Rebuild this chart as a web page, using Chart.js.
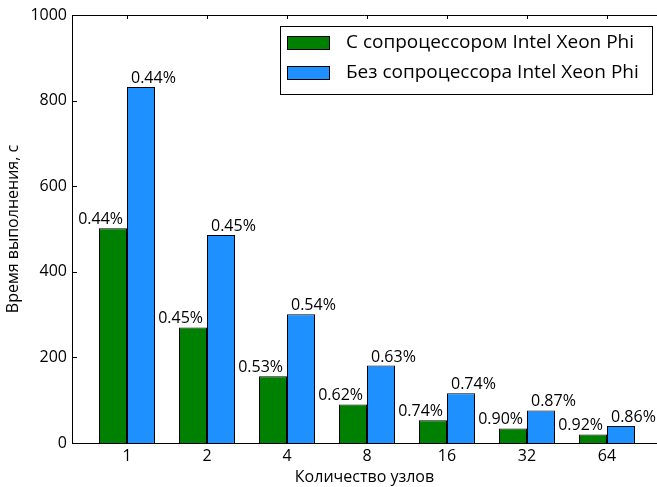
<!DOCTYPE html>
<html>
<head>
<meta charset="utf-8">
<script src="https://cdn.jsdelivr.net/npm/chart.js@4"></script>
<style>
  html, body { margin: 0; padding: 0; background: #fff; }
  #wrap { width: 657px; height: 487px; }
</style>
</head>
<body>
<div id="wrap"><canvas id="timeChart" width="657" height="487"></canvas></div>
<script>
// Data
const nodeLabels = ['1', '2', '4', '8', '16', '32', '64'];
const nodePos = [0, 1, 2, 3, 4, 5, 6];
const withPhi = [502, 270, 156, 90, 53, 34, 20];
const withoutPhi = [832, 486, 301, 181, 116, 76, 40];
const withPhiPct = ['0.44%', '0.45%', '0.53%', '0.62%', '0.74%', '0.90%', '0.92%'];
const withoutPhiPct = ['0.44%', '0.45%', '0.54%', '0.63%', '0.74%', '0.87%', '0.86%'];
const yTicks = [0, 200, 400, 600, 800, 1000];

const FONT = 'Open Sans';

// inner ticks, top spine, bar labels and the framed legend
const decorPlugin = {
    id: 'decor',
    afterDatasetsDraw(chart) {
        const ctx = chart.ctx;
        const area = chart.chartArea;
        const x = chart.scales.x;
        const y = chart.scales.y;

        ctx.save();
        ctx.strokeStyle = '#000';
        ctx.lineWidth = 1;

        // top spine
        ctx.beginPath();
        ctx.moveTo(area.left, Math.round(area.top) + 0.5);
        ctx.lineTo(area.right, Math.round(area.top) + 0.5);
        ctx.stroke();

        // x ticks (top and bottom, pointing in)
        nodePos.forEach(v => {
            const px = Math.round(x.getPixelForValue(v)) + 0.5;
            ctx.beginPath();
            ctx.moveTo(px, area.top);
            ctx.lineTo(px, area.top + 4);
            ctx.moveTo(px, area.bottom);
            ctx.lineTo(px, area.bottom - 4);
            ctx.stroke();
        });

        // y ticks (left, pointing in)
        yTicks.forEach(v => {
            const py = Math.round(y.getPixelForValue(v)) + 0.5;
            ctx.beginPath();
            ctx.moveTo(area.left, py);
            ctx.lineTo(area.left + 5, py);
            ctx.stroke();
        });

        // percentage labels above bars
        ctx.font = '16px "' + FONT + '"';
        ctx.fillStyle = '#000';
        ctx.textBaseline = 'alphabetic';
        const greenMeta = chart.getDatasetMeta(0);
        const blueMeta = chart.getDatasetMeta(1);
        greenMeta.data.forEach((bar, i) => {
            ctx.textAlign = 'right';
            ctx.fillText(withPhiPct[i], bar.x + bar.width / 2 - 4, bar.y - 4);
        });
        blueMeta.data.forEach((bar, i) => {
            ctx.textAlign = 'left';
            ctx.fillText(withoutPhiPct[i], bar.x - bar.width / 2 + 4, bar.y - 4);
        });

        // legend box
        ctx.fillStyle = '#fff';
        ctx.fillRect(280.5, 26.5, 372, 68);
        ctx.strokeRect(280.5, 26.5, 372, 68);
        ctx.font = '19px "' + FONT + '"';
        chart.data.datasets.forEach((ds, i) => {
            const top = 36 + i * 30;
            ctx.fillStyle = ds.backgroundColor;
            ctx.fillRect(287.5, top + 0.5, 42, 13);
            ctx.strokeRect(287.5, top + 0.5, 42, 13);
            ctx.fillStyle = '#000';
            ctx.textAlign = 'left';
            ctx.textBaseline = 'middle';
            ctx.fillText(ds.label, 346, top + 7);
        });
        ctx.restore();
    }
};

function initChart() {
    const ctx = document.getElementById('timeChart');

    new Chart(ctx, {
        type: 'bar',
        data: {
            datasets: [{
                label: 'С сопроцессором Intel Xeon Phi',
                data: nodePos.map((p, i) => ({ x: p, y: withPhi[i] })),
                backgroundColor: '#008000',
                borderColor: '#000',
                borderWidth: 1,
                categoryPercentage: 0.7,
                barPercentage: 1.0
            }, {
                label: 'Без сопроцессора Intel Xeon Phi',
                data: nodePos.map((p, i) => ({ x: p, y: withoutPhi[i] })),
                backgroundColor: '#1e90ff',
                borderColor: '#000',
                borderWidth: 1,
                categoryPercentage: 0.7,
                barPercentage: 1.0
            }]
        },
        options: {
            responsive: false,
            animation: false,
            layout: {
                padding: { top: 15, right: 0, left: 0, bottom: 0 }
            },
            plugins: {
                legend: { display: false },
                tooltip: { enabled: false }
            },
            scales: {
                x: {
                    type: 'linear',
                    offset: false,
                    min: -0.6875,
                    max: 6.625,
                    grid: { display: false, drawTicks: false, offset: false },
                    border: { display: true, color: '#000', width: 1 },
                    afterBuildTicks: scale => {
                        scale.ticks = nodePos.map(v => ({ value: v }));
                    },
                    afterFit: scale => { scale.height = 44; },
                    ticks: {
                        color: '#000',
                        padding: 4,
                        font: { size: 16, family: FONT },
                        callback: v => nodeLabels[v]
                    },
                    title: {
                        display: true,
                        text: 'Количество узлов',
                        color: '#000',
                        padding: { top: 0, bottom: 0 },
                        font: { size: 16, family: FONT }
                    }
                },
                y: {
                    min: 0,
                    max: 1000,
                    grid: { display: false, drawTicks: false },
                    border: { display: true, color: '#000', width: 1 },
                    afterBuildTicks: scale => {
                        scale.ticks = yTicks.map(v => ({ value: v }));
                    },
                    afterFit: scale => { scale.width = 72; },
                    ticks: {
                        color: '#000',
                        padding: 5,
                        font: { size: 16, family: FONT },
                        callback: v => String(v)
                    },
                    title: {
                        display: true,
                        text: 'Время выполнения, с',
                        color: '#000',
                        padding: { top: 4, bottom: 0 },
                        font: { size: 16, family: FONT }
                    }
                }
            }
        },
        plugins: [decorPlugin]
    });
}

document.addEventListener('DOMContentLoaded', initChart);
</script>
</body>
</html>
